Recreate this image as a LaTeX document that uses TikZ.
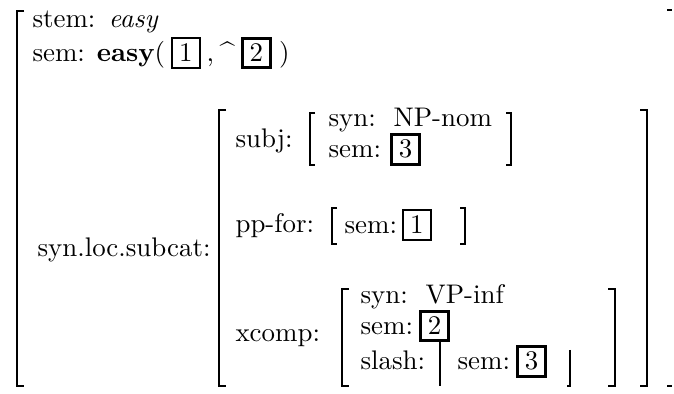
\documentclass[tikz,border=0pt]{standalone}
\usepackage{tikz}
\usetikzlibrary{positioning}
\tikzset{%
  feat/.style={
    anchor=base west,
    inner sep=0pt
  },
  tag/.style={
    draw,
    line width=1.1pt,
    inner sep=0pt,
    minimum width=10.4pt,
    minimum height=11pt
  },
  thin tag/.style={
    line width=0.6pt
  },
  heavy bracket/.style={
    line width=0.85pt
  },
  light bracket/.style={
    line width=0.4pt
  },
}

\begin{document}
\begin{tikzpicture}[x=0.3717pt, y=-0.3717pt]
\useasboundingbox (0,0) rectangle (674,394);

    % top level
    \node[feat] (stem) at (32,28) {stem:\enspace\textit{easy}};
    \node[feat] (sem) at (32,62) {sem: \textbf{easy}(};
    \node[tag, thin tag, base right=2pt of sem] (tagA) {1};
    \node[feat, base right=2pt of tagA] (comma) {,};
    \node[feat, base right=1.8pt of comma] (hat) {\^{}};
    \node[tag, base right=2pt of hat] (tagB) {2};
    \node[feat, base right=2.5pt of tagB] (close) {)};

    % subcat list
    \node[feat, anchor=west] (subcat) at (37,250) {syn.loc.subcat:};
    \node[feat, anchor=west] (subj) at (235,141) {subj:};
    \node[feat, anchor=west] (ppfor) at (235,226) {pp-for:};
    \node[feat, anchor=west] (xcomp) at (235,338) {xcomp:};

    \node[feat] (subjsyn) at (328,127) {syn:\ \ NP-nom};
    \node[feat] (subjsem) at (328,158) {sem:};
    \node[tag, anchor=base west] (tagC) at (390,158) {3};

    \node[feat] (ppsem) at (344,234) {sem:};
    \node[tag, thin tag, anchor=base west] (tagD) at (402,234) {1};

    \node[feat] (xsyn) at (360,304) {syn:\ \ VP-inf};
    \node[feat] (xsem) at (360,335) {sem:};
    \node[tag, anchor=base west] (tagE) at (419,335) {2};
    \node[feat] (xslash) at (360,370) {slash:};
    \node[feat] (slsem) at (457,370) {sem:};
    \node[tag, anchor=base west] (tagF) at (516,370) {3};

    % brackets
    \foreach \x/\t/\b in {17/11/386, 219/110/386, 342/289/386}
        \draw[heavy bracket] (\x+7,\t) -- (\x,\t) -- (\x,\b) -- (\x+7,\b);
    \foreach \x/\t/\b in {647/110/386, 615/289/386}
        \draw[heavy bracket] (\x-7,\t) -- (\x,\t) -- (\x,\b) -- (\x-7,\b);
    \draw[heavy bracket] (667,10) -- (672,10);
    \draw[heavy bracket] (667,386) -- (672,386);

    \draw[light bracket] (315,113) -- (310,113) -- (310,165) -- (315,165);
    \draw[light bracket] (506,113) -- (511,113) -- (511,165) -- (506,165);
    \draw[light bracket] (337,208) -- (332,208) -- (332,244) -- (337,244);
    \draw[light bracket] (460,208) -- (465,208) -- (465,244) -- (460,244);
    \draw[light bracket] (440,0 |- tagE.south) -- (440,386);
    \draw[light bracket] (570,350) -- (570,386) -- (567,386);
\end{tikzpicture}
\end{document}
